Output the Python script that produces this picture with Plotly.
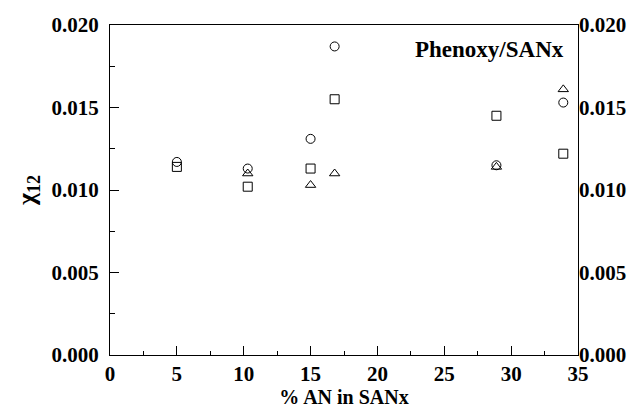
import plotly.graph_objects as go

x_circle = [5.0, 10.3, 15.0, 16.8, 28.9, 33.9]
y_circle = [0.0117, 0.0113, 0.0131, 0.0187, 0.0115, 0.0153]

x_square = [5.0, 10.3, 15.0, 16.8, 28.9, 33.9]
y_square = [0.0114, 0.0102, 0.0113, 0.0155, 0.0145, 0.0122]

x_triangle = [10.3, 15.0, 16.8, 28.9, 33.9]
y_triangle = [0.0110, 0.0103, 0.0110, 0.0114, 0.0161]

x_ticks = [0, 5, 10, 15, 20, 25, 30, 35]
y_ticks = [0.000, 0.005, 0.010, 0.015, 0.020]

FONT = "Liberation Serif"
mk = dict(color="rgba(0,0,0,0)", size=9, line=dict(color="black", width=1))

fig = go.Figure()
fig.add_trace(go.Scatter(x=x_circle, y=y_circle, mode="markers",
                         marker=dict(symbol="circle", **mk)))
fig.add_trace(go.Scatter(x=x_square, y=y_square, mode="markers",
                         marker=dict(symbol="square", **mk)))
fig.add_trace(go.Scatter(x=x_triangle, y=y_triangle, mode="markers",
                         marker=dict(symbol="triangle-up", **mk)))
fig.add_trace(go.Scatter(x=[0], y=[0], yaxis="y2", mode="markers",
                         marker=dict(opacity=0), showlegend=False, hoverinfo="skip"))

tickfont = dict(family=FONT, size=21, color="black", weight="bold")
fig.update_layout(
    width=639, height=411,
    margin=dict(l=110, r=61, t=25, b=56),
    paper_bgcolor="white", plot_bgcolor="white",
    showlegend=False,
    xaxis=dict(range=[0, 35], tickvals=x_ticks, ticktext=[str(v) for v in x_ticks],
               ticks="inside", ticklen=9, tickwidth=1, tickcolor="black",
               minor=dict(ticks="inside", ticklen=4, dtick=2.5, tickcolor="black"),
               showline=True, linecolor="black", linewidth=1.2, mirror=True,
               showgrid=False, zeroline=False, tickfont=tickfont, automargin=False,
               title=dict(text="% AN in SANx", standoff=2,
                          font=dict(family=FONT, size=20, color="black", weight="bold"))),
    yaxis=dict(range=[0, 0.020], tickvals=y_ticks,
               ticktext=[f"{v:.3f}" for v in y_ticks],
               ticks="inside", ticklen=9, tickwidth=1, tickcolor="black",
               minor=dict(ticks="inside", ticklen=5, dtick=0.0025, tickcolor="black"),
               showline=True, linecolor="black", linewidth=1.2, mirror=True,
               showgrid=False, zeroline=False, tickfont=tickfont, automargin=False,
               ticklabelstandoff=6,
               title=dict(text="χ<sub>12</sub>", standoff=8,
                          font=dict(family=FONT, size=26, color="black", weight="bold"))),
    yaxis2=dict(range=[0, 0.020], tickvals=y_ticks,
                ticktext=[f"{v:.3f}" for v in y_ticks],
                overlaying="y", side="right", showgrid=False, zeroline=False,
                ticks="", tickfont=tickfont, showline=False, automargin=False),
    annotations=[dict(text="<b>Phenoxy/SANx</b>", x=0.975, y=0.925, xref="paper", yref="paper",
                      xanchor="right", yanchor="middle", showarrow=False,
                      font=dict(family=FONT, size=23, color="black"))],
)

fig.write_html("out.html")
